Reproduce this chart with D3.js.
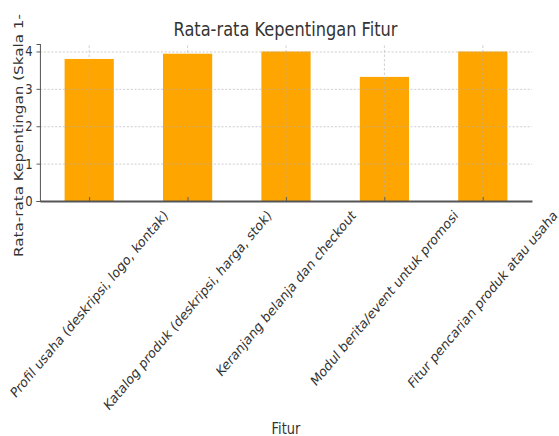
<!DOCTYPE html>
<html>
<head>
<meta charset="utf-8">
<script src="https://cdn.jsdelivr.net/npm/d3@7"></script>
<style>
  html, body { margin: 0; padding: 0; background: #fff; }
  svg { display: block; font-family: 'DejaVu Sans', sans-serif; }
</style>
</head>
<body>
<div id="chart"></div>
<script>

var categories = [
  'Profil usaha (deskripsi, logo, kontak)',
  'Katalog produk (deskripsi, harga, stok)',
  'Keranjang belanja dan checkout',
  'Modul berita/event untuk promosi',
  'Fitur pencarian produk atau usaha'
];
var values = [3.80, 3.94, 4.00, 3.32, 4.00];
var yTicks = [0, 1, 2, 3, 4];

var title = 'Rata-rata Kepentingan Fitur';
var xLabel = 'Fitur';
var yLabel = 'Rata-rata Kepentingan (Skala 1-';

var settings = {
  width: 559,
  height: 436,
  squeeze: 0.84,          // the picture is narrower than it is tall
  plot: { left: 40, right: 532, top: 44, bottom: 201 },
  bar: 0.5,
  colors: { bar: '#ffa500', text: '#333', axis: '#555', grid: '#b0b0b0' }
};

function translate(x, y) {
  return 'translate(' + x + ',' + y + ')';
}

function draw(s) {

  var k = s.squeeze;
  var p = s.plot;

  var svg = d3.select('#chart').append('svg')
    .attr('width', s.width)
    .attr('height', s.height);

  svg.append('rect')
    .attr('width', s.width)
    .attr('height', s.height)
    .attr('fill', '#fff');

  // work in unsqueezed units, then squeeze everything horizontally
  var g = svg.append('g').attr('transform', 'scale(' + k + ',1)');

  var x = d3.scaleLinear()
    .domain([-0.5, categories.length - 0.5])
    .range([p.left / k, p.right / k]);

  var y = d3.scaleLinear()
    .domain([0, 4.2])
    .range([p.bottom, p.top]);

  var step = x(1) - x(0);

  // bars
  g.append('g').selectAll('rect')
      .data(values)
    .enter().append('rect')
      .attr('x', function(d, i) { return x(i - s.bar / 2); })
      .attr('width', step * s.bar)
      .attr('y', function(d) { return y(d); })
      .attr('height', function(d) { return y(0) - y(d); })
      .attr('fill', s.colors.bar);

  // grid
  var grid = g.append('g')
    .attr('stroke', s.colors.grid)
    .attr('stroke-width', 0.8)
    .attr('stroke-dasharray', '2.5,2')
    .attr('opacity', 0.8);

  grid.selectAll('.gy')
      .data(yTicks)
    .enter().append('line')
      .attr('x1', x.range()[0]).attr('x2', x.range()[1])
      .attr('y1', function(d) { return y(d) + 0.5; })
      .attr('y2', function(d) { return y(d) + 0.5; });

  grid.selectAll('.gx')
      .data(categories)
    .enter().append('line')
      .attr('x1', function(d, i) { return x(i); })
      .attr('x2', function(d, i) { return x(i); })
      .attr('y1', y.range()[0]).attr('y2', y.range()[1]);

  // y axis
  var yAxis = g.append('g')
    .attr('transform', translate(x.range()[0], 0))
    .call(d3.axisLeft(y).tickValues(yTicks).tickFormat(d3.format('d'))
      .tickSize(3.5 / k).tickPadding(4 / k));

  yAxis.select('.domain').attr('stroke', s.colors.axis).attr('stroke-width', 1.2);
  yAxis.selectAll('.tick line').attr('stroke', s.colors.axis);
  yAxis.selectAll('.tick text')
    .attr('fill', s.colors.text)
    .attr('font-size', 13.8)
    .attr('font-family', 'DejaVu Sans');

  // x axis: ticks point inward
  var xAxis = g.append('g')
    .attr('transform', translate(0, p.bottom))
    .call(d3.axisBottom(x).tickValues(d3.range(categories.length))
      .tickSize(-4).tickSizeOuter(0).tickFormat(''));

  xAxis.select('.domain').attr('stroke', s.colors.axis).attr('stroke-width', 1.8);
  xAxis.selectAll('.tick line').attr('stroke', s.colors.axis);

  // rotated category labels, bbox centred under each tick
  var fs = 14.2;
  var labels = g.append('g')
    .attr('fill', s.colors.text)
    .attr('font-size', fs);

  labels.selectAll('text')
      .data(categories)
    .enter().append('text')
      .attr('text-anchor', 'middle')
      .attr('dominant-baseline', 'central')
      .text(function(d) { return d; })
      .attr('transform', function(d, i) {
        var len = this.getComputedTextLength();
        var half = Math.SQRT1_2 * (len + fs * 1.17) / 2;
        return translate(x(i), p.bottom + 6 + half) + ' rotate(-45)';
      });

  // title and axis labels
  g.append('text')
    .attr('x', 285.5 / k)
    .attr('y', 36.5)
    .attr('text-anchor', 'middle')
    .attr('font-size', 19.3)
    .attr('fill', s.colors.text)
    .text(title);

  g.append('text')
    .attr('x', (p.left + p.right) / 2 / k)
    .attr('y', 434)
    .attr('text-anchor', 'middle')
    .attr('font-size', 15.5)
    .attr('fill', s.colors.text)
    .text(xLabel);

  g.append('text')
    .attr('transform', translate(23 / k, 257) + ' rotate(-90)')
    .attr('text-anchor', 'start')
    .attr('font-size', 15.2)
    .attr('fill', s.colors.text)
    .text(yLabel);

}

draw(settings);

</script>
</body>
</html>
